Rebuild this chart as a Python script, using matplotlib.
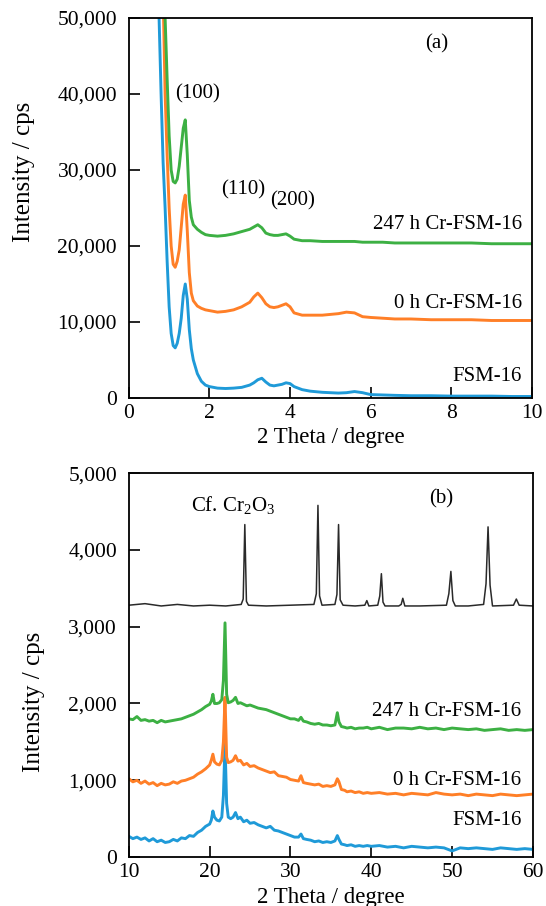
import matplotlib
matplotlib.use("Agg")
import matplotlib.pyplot as plt
from matplotlib.ticker import FuncFormatter

plt.rcParams['font.family'] = ['Liberation Serif', 'DejaVu Serif']
plt.rcParams['mathtext.fontset'] = 'custom'
plt.rcParams['mathtext.rm'] = 'Liberation Serif'

# ---------------- Panel (a) data ----------------
x_a = [0.70, 0.75, 0.80, 0.85, 0.90, 0.95, 1.00, 1.05, 1.10, 1.15, 1.20, 1.25, 1.30, 1.35,
       1.40, 1.45, 1.50, 1.55, 1.60, 1.70, 1.80, 1.90, 2.0, 2.2, 2.4, 2.6, 2.8, 3.0, 3.1,
       3.2, 3.3, 3.4, 3.5, 3.6, 3.7, 3.8, 3.9, 4.0, 4.1, 4.3, 4.5, 4.8, 5.0, 5.2, 5.4, 5.6,
       5.8, 6.0, 6.3, 6.6, 7.0, 7.5, 8.0, 8.5, 9.0, 9.5, 10.0]
fsm_a = [65000, 50000, 40000, 31000, 25000, 18000, 12000, 8500, 6900, 6600, 7200, 8500,
         10500, 13500, 15000, 13000, 9000, 6500, 5000, 3200, 2200, 1700, 1500, 1300, 1250,
         1300, 1400, 1700, 2000, 2400, 2600, 2100, 1700, 1600, 1700, 1800, 2000, 1900, 1500,
         1100, 900, 750, 700, 650, 700, 850, 700, 450, 400, 350, 300, 300, 250, 250, 250,
         200, 200]
h0_a = [85000, 72000, 62000, 53000, 40000, 32000, 25000, 20000, 17600, 17200, 18000, 19500,
        22500, 25500, 26700, 22000, 16500, 13800, 12800, 12100, 11800, 11600, 11500, 11300,
        11400, 11600, 12000, 12600, 13300, 13800, 13200, 12400, 12000, 11900, 12000, 12200,
        12400, 12000, 11200, 10900, 10900, 10900, 11000, 11100, 11300, 11200, 10700, 10600,
        10500, 10400, 10400, 10300, 10300, 10300, 10200, 10200, 10200]
h247_a = [90000, 78000, 68000, 58000, 50000, 42000, 34500, 30000, 28500, 28300, 28800, 30500,
          33000, 35500, 36600, 32000, 26000, 23800, 22800, 22200, 21800, 21500, 21400, 21300,
          21400, 21600, 21900, 22200, 22500, 22800, 22400, 21700, 21500, 21400, 21400, 21500,
          21600, 21300, 20900, 20700, 20700, 20600, 20600, 20600, 20600, 20600, 20500, 20500,
          20500, 20400, 20400, 20400, 20400, 20400, 20300, 20300, 20300]

# ---------------- Panel (b) data ----------------
x_b = [10, 10.5, 11, 11.5, 12, 12.5, 13, 13.5, 14, 14.5, 15, 15.5, 16, 16.5, 17, 17.5, 18,
       18.5, 19, 19.5,
       20, 20.2, 20.4, 20.6, 20.9, 21.2, 21.5, 21.7, 21.9, 22.1,
       22.3, 22.6, 22.9, 23.2, 23.5, 23.8, 24.2, 24.6, 25, 25.5,
       26, 26.5, 27, 27.5, 28, 28.5, 29, 29.5, 30, 30.5,
       31, 31.3, 31.6, 32, 32.5, 33, 33.5, 34, 34.5, 35,
       35.5, 35.8, 36.0, 36.3, 36.7, 37, 37.5, 38, 38.5, 39,
       39.5, 40, 41, 42, 43, 44, 45, 46, 47, 48,
       49, 50, 51, 52, 53, 54, 55, 56, 57, 58, 59, 60]
fsm_b = [270, 240, 260, 230, 250, 210, 240, 200, 220, 190, 200, 230, 210, 250, 240, 280, 270,
         320, 350, 400,
         430, 480, 600, 520, 480, 470, 520, 800, 1480, 700,
         520, 500, 520, 580, 500, 520, 460, 480, 440, 450,
         420, 400, 380, 400, 350, 340, 320, 300, 280, 260,
         260, 300, 240, 230, 220, 200, 210, 190, 200, 190,
         210, 280, 230, 170, 160, 150, 160, 140, 150, 140,
         150, 140, 150, 130, 140, 120, 140, 130, 120, 130,
         120, 80, 120, 110, 120, 110, 100, 120, 110, 100, 110, 100]
h0_b = [1020, 980, 1000, 960, 990, 950, 970, 930, 960, 940, 950, 980, 960, 990, 1000, 1020,
        1040, 1080, 1110, 1150,
        1200, 1260, 1340, 1240, 1210, 1200, 1260, 1500, 2080, 1300,
        1230, 1240, 1260, 1320, 1250, 1260, 1200, 1220, 1180, 1190,
        1160, 1140, 1120, 1100, 1110, 1060, 1050, 1040, 1010, 1000,
        990, 1060, 970, 960, 950, 940, 950, 920, 930, 920,
        940, 1020, 980, 880, 870, 850, 860, 840, 850, 830,
        840, 830, 840, 820, 830, 810, 830, 820, 810, 840,
        820, 810, 820, 800, 820, 810, 800, 820, 810, 800, 810, 820]
h247_b = [1800, 1790, 1830, 1780, 1790, 1770, 1780, 1750, 1780, 1760, 1770, 1780, 1790, 1800,
          1820, 1840, 1860, 1890, 1920, 1960,
          1990, 2030, 2120, 2000, 2000, 2010, 2050, 2300, 3050, 2120,
          2010, 2020, 2040, 2080, 2000, 2010, 1990, 1970, 1980, 1960,
          1940, 1930, 1920, 1900, 1880, 1860, 1840, 1820, 1800, 1800,
          1780, 1820, 1770, 1760, 1740, 1730, 1740, 1720, 1720, 1710,
          1720, 1880, 1760, 1700, 1690, 1680, 1690, 1670, 1680, 1680,
          1690, 1670, 1690, 1660, 1680, 1680, 1670, 1690, 1670, 1680,
          1660, 1680, 1670, 1660, 1670, 1650, 1660, 1670, 1650, 1660, 1650, 1660]
x_cr = [10, 12, 14, 16, 18, 20, 22, 23.9, 24.15, 24.35, 24.55, 24.8, 27, 30, 32.9, 33.2, 33.4,
        33.6, 33.9, 35.5, 35.75, 35.95, 36.15, 36.5, 38, 39.2, 39.45, 39.7, 40.8, 41.05,
        41.25, 41.45, 41.7, 43.4, 43.7, 43.9, 44.15, 46, 49.3, 49.6, 49.85, 50.1, 50.4, 52,
        53.9, 54.2, 54.45, 54.7, 55.0, 57.6, 57.95, 58.3, 60]
cr2o3 = [3280, 3300, 3270, 3290, 3270, 3280, 3270, 3290, 3360, 4330, 3330, 3280, 3270, 3280,
         3290, 3430, 4580, 3400, 3280, 3290, 3420, 4330, 3350, 3280, 3270, 3280, 3340, 3270,
         3280, 3400, 3690, 3320, 3270, 3270, 3290, 3370, 3270, 3270, 3280, 3430, 3720, 3340,
         3270, 3270, 3290, 3560, 4300, 3540, 3270, 3280, 3360, 3280, 3270]

labels = ["FSM-16", "0 h Cr-FSM-16", "247 h Cr-FSM-16"]
c_blue, c_orange, c_green = "#1f9ad8", "#ff7f27", "#3cb043"

FS_TICK = 15.5
FS_TXT = 15
FS_XL = 16.5
FS_YL = 18
LW = 2.1

fig = plt.figure(figsize=(5.46, 9.06), dpi=100)
ax1 = fig.add_axes([0.236, 0.5607, 0.738, 0.4194])
ax2 = fig.add_axes([0.236, 0.054, 0.740, 0.4238])

comma = FuncFormatter(lambda v, p: f"{int(v):,}")

for ax in (ax1, ax2):
    for s in ax.spines.values():
        s.set_linewidth(1.3)
    ax.tick_params(direction='in', length=8, width=1.2, labelsize=FS_TICK)
    ax.tick_params(axis='y', pad=8.5)
    ax.tick_params(axis='x', pad=4)
    ax.yaxis.set_major_formatter(comma)
    ax.set_xlabel("2 Theta / degree", fontsize=FS_XL)
    ax.set_ylabel("Intensity / cps", fontsize=FS_YL)

ax1.xaxis.set_label_coords(0.5, -0.103)
ax1.yaxis.set_label_coords(-0.26, 0.595)
ax2.xaxis.set_label_coords(0.5, -0.104)
ax2.yaxis.set_label_coords(-0.235, 0.404)
for ax in (ax1, ax2):
    ax.xaxis.label.set_verticalalignment('center')
    ax.yaxis.label.set_verticalalignment('center')

# Panel (a)
ax1.plot(x_a, fsm_a, color=c_blue, lw=LW)
ax1.plot(x_a, h0_a, color=c_orange, lw=LW)
ax1.plot(x_a, h247_a, color=c_green, lw=LW)
ax1.set_xlim(0, 10)
ax1.set_ylim(0, 50000)
ax1.set_xticks([0, 2, 4, 6, 8, 10])
ax1.set_yticks([0, 10000, 20000, 30000, 40000, 50000])
ax1.text(7.65, 46600, "(a)", fontsize=FS_TXT, ha='center', va='center')
ax1.text(1.71, 40000, "(100)", fontsize=FS_TXT, ha='center', va='center')
ax1.text(2.83, 27400, "(110)", fontsize=FS_TXT, ha='center', va='center')
ax1.text(4.07, 26000, "(200)", fontsize=FS_TXT, ha='center', va='center')
ax1.text(9.75, 22800, labels[2], fontsize=FS_TXT, ha='right', va='center')
ax1.text(9.75, 12500, labels[1], fontsize=FS_TXT, ha='right', va='center')
ax1.text(9.75, 2800, labels[0], fontsize=FS_TXT, ha='right', va='center')

# Panel (b)
ax2.plot(x_cr, cr2o3, color="#2a2a2a", lw=1.1)
ax2.plot(x_b, fsm_b, color=c_blue, lw=LW)
ax2.plot(x_b, h0_b, color=c_orange, lw=LW)
ax2.plot(x_b, h247_b, color=c_green, lw=LW)
ax2.set_xlim(10, 60)
ax2.set_ylim(0, 5000)
ax2.set_xticks([10, 20, 30, 40, 50, 60])
ax2.set_yticks([0, 1000, 2000, 3000, 4000, 5000])
ax2.text(22.9, 4580, r"Cf. Cr$_2$O$_3$", fontsize=FS_TXT, ha='center', va='center')
ax2.text(48.7, 4670, "(b)", fontsize=FS_TXT, ha='center', va='center')
ax2.text(58.6, 1890, labels[2], fontsize=FS_TXT, ha='right', va='center')
ax2.text(58.6, 1000, labels[1], fontsize=FS_TXT, ha='right', va='center')
ax2.text(58.6, 480, labels[0], fontsize=FS_TXT, ha='right', va='center')

fig.savefig("out.png", dpi=100)
